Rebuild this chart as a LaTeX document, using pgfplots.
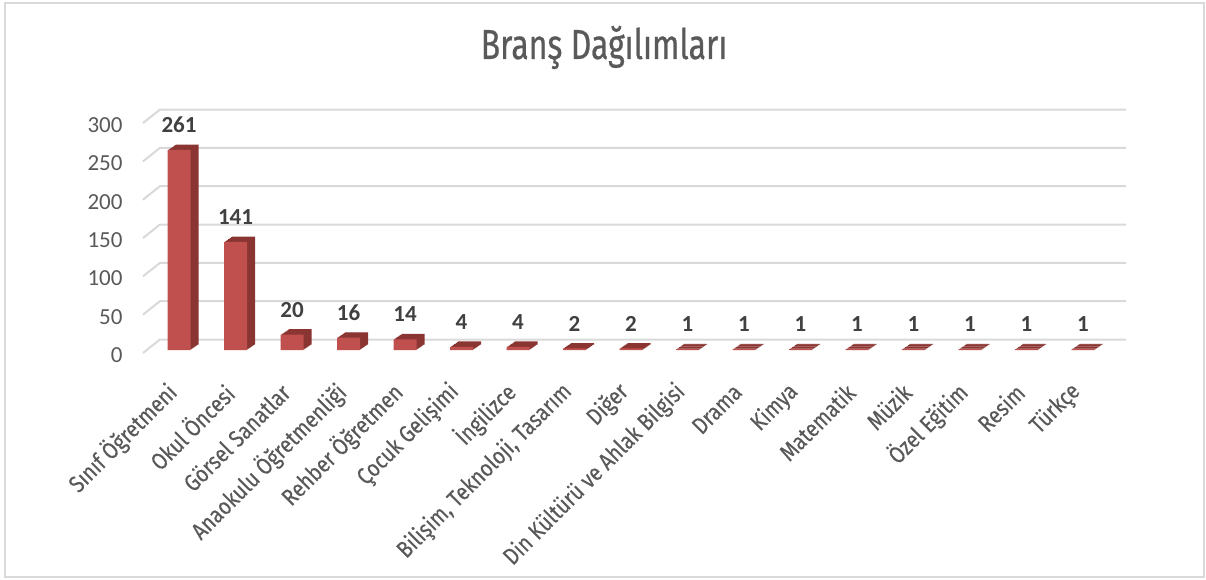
\documentclass[border=0pt]{standalone}
\usepackage{pgfplots}
\usepackage{pgfplotstable}
\pgfplotsset{compat=1.18}
\usepackage{fontspec}
\setmainfont{Carlito}
\newfontfamily\dinfont[FakeStretch=0.76, FakeBold=0.5]{Fira Sans}
\newfontfamily\catfont[FakeStretch=0.85, FakeBold=0.3]{Fira Sans}
\definecolor{txt}{HTML}{595959}
\definecolor{lbl}{HTML}{404040}
\definecolor{gridc}{HTML}{D9D9D9}
\definecolor{barfront}{HTML}{C0504D}
\definecolor{barside}{HTML}{8A3532}
\pgfplotstableread{
x y
0 261
1 141
2 20
3 16
4 14
5 4
6 4
7 2
8 2
9 1
10 1
11 1
12 1
13 1
14 1
15 1
16 1
}\branch
\begin{document}
\begin{tikzpicture}
\useasboundingbox (0,0) rectangle (603pt,289.5pt);
\draw[gridc, line width=1pt] (2.25pt,1pt) rectangle (602pt,288pt);
\node[anchor=base, text=txt, font=\dinfont\fontsize{21}{24}\selectfont] at (302pt,260pt) {Branş Dağılımları};
\begin{axis}[
  at={(75.375pt,114.5pt)}, anchor=south west,
  scale only axis, width=480.25pt, height=114.95pt,
  xmin=-0.5, xmax=16.5, ymin=0, ymax=300,
  clip=false,
  axis line style={draw=none},
  major tick length=0pt,
  ytick={0,50,100,150,200,250,300},
  xtick={0,1,2,3,4,5,6,7,8,9,10,11,12,13,14,15,16},
  xticklabels={Sınıf Öğretmeni, Okul Öncesi, Görsel Sanatlar, Anaokulu Öğretmenliği, Rehber Öğretmen, Çocuk Gelişimi, İngilizce, {Bilişim, Teknoloji, Tasarım}, Diğer, Din Kültürü ve Ahlak Bilgisi, Drama, Kimya, Matematik, Müzik, Özel Eğitim, Resim, Türkçe},
  xticklabel style={font=\catfont\fontsize{11.8}{14}\selectfont, text=txt, inner sep=0pt, anchor=east, xshift=-3pt, yshift=-19pt, rotate=45},
  yticklabel style={font=\fontsize{11.5}{13}\selectfont, text=txt, xshift=-10.6pt, yshift=-2.5pt},
  /pgf/number format/assume math mode=true,
]
\pgfplotsinvokeforeach{0,50,100,150,200,250,300}{
  \draw[gridc, line width=1pt] ([xshift=-3.9pt,yshift=-1.5pt]axis cs:-0.5,#1) -- ([xshift=4.6pt,yshift=5.25pt]axis cs:-0.5,#1) -- ([xshift=7.4pt,yshift=5.25pt]axis cs:16.5,#1);
}
\pgfplotsinvokeforeach{1,2,3,4,5,6,7,8}{
  \addplot[ybar, bar width=11.5pt, bar shift=#1*0.5pt, yshift=#1*0.34pt, fill=barside, draw=none] table[x=x,y=y] {\branch};
}
\addplot[ybar, bar width=11.5pt, bar shift=0pt, fill=barfront, draw=none,
  nodes near coords,
  every node near coord/.append style={anchor=south, inner sep=0pt, yshift=8.5pt, text=lbl, font=\bfseries\fontsize{11.5}{13}\selectfont}] table[x=x,y=y] {\branch};
\end{axis}
\end{tikzpicture}
\end{document}
